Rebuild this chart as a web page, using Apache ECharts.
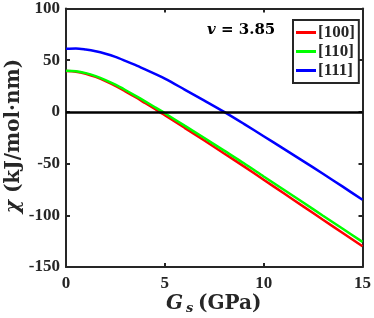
<!DOCTYPE html>
<html>
<head>
<meta charset="utf-8">
<script src="https://cdn.jsdelivr.net/npm/echarts@6/dist/echarts.min.js"></script>
<style>html,body{margin:0;padding:0;background:#fff;}#c{width:374px;height:318px;}</style>
</head>
<body>
<div id="c"></div>
<script>
var gs = [0, 0.5, 1, 1.5, 2, 2.5, 3, 3.5, 4, 4.5, 5, 6, 7, 8, 9, 10, 11, 12, 13, 14, 15];
var s100 = [39.5, 38.9, 36.9, 33.8, 29.8, 25.2, 19.9, 14.4, 8.6, 2.8, -3.1, -15.4, -27.7, -40.2, -52.7, -65.6, -78.5, -91.4, -104.3, -117.1, -130];
var s110 = [39.8, 39.3, 37.5, 34.6, 30.8, 26.3, 21.2, 15.8, 10.2, 4.5, -1.3, -13.3, -25.3, -37.5, -49.7, -62.4, -75, -87.7, -100.4, -113, -125.7];
var s111 = [61, 61.4, 60.3, 58.6, 56.2, 53.2, 49.4, 45.4, 41.1, 36.7, 32.2, 21.6, 10.9, 0, -11.6, -23.5, -35.5, -47.6, -59.8, -72.3, -85];
var names = ['[100]', '[110]', '[111]'];
var colors = ['#ff0000', '#00ff00', '#0000ff'];
var xTicks = [0, 5, 10, 15];
var yTicks = [-150, -100, -50, 0, 50, 100];

function pairs(v) { return gs.map(function (x, i) { return [x, v[i]]; }); }

var tickFont = { fontFamily: 'Liberation Serif', fontWeight: 'bold', fontSize: 17, color: '#262626' };
var frame = { show: true, onZero: false, lineStyle: { color: '#262626', width: 2 } };
var ticks = { show: true, inside: true, length: 4, lineStyle: { color: '#262626', width: 2 } };

var series = [s100, s110, s111].map(function (v, i) {
  return {
    name: names[i], type: 'line', data: pairs(v), smooth: 0.3,
    showSymbol: false, symbol: 'none',
    lineStyle: { color: colors[i], width: 2.5 }, itemStyle: { color: colors[i] },
    z: 2 + i
  };
});
series[2].markLine = {
  silent: true, symbol: 'none', label: { show: false },
  lineStyle: { color: '#000', width: 2.5, type: 'solid' },
  data: [{ yAxis: 0 }]
};

var chart = echarts.init(document.getElementById('c'), null, { renderer: 'canvas' });
chart.setOption({
  animation: false,
  backgroundColor: '#fff',
  grid: { left: 66, right: 10, top: 8, bottom: 51, containLabel: false },
  xAxis: [
    { type: 'value', min: 0, max: 15, interval: 5, position: 'bottom',
      axisLine: frame, axisTick: ticks,
      axisLabel: Object.assign({ margin: 8 }, tickFont), splitLine: { show: false } },
    { type: 'value', min: 0, max: 15, interval: 5, position: 'top',
      axisLine: frame, axisTick: ticks,
      axisLabel: { show: false }, splitLine: { show: false } }
  ],
  yAxis: [
    { type: 'value', min: -150, max: 100, interval: 50, position: 'left',
      axisLine: frame, axisTick: ticks,
      axisLabel: Object.assign({ margin: 6 }, tickFont), splitLine: { show: false } },
    { type: 'value', min: -150, max: 100, interval: 50, position: 'right',
      axisLine: frame, axisTick: ticks,
      axisLabel: { show: false }, splitLine: { show: false } }
  ],
  legend: {
    data: names, orient: 'vertical', left: 293, top: 20,
    padding: [3, 4, 3, 3], itemGap: 0, itemWidth: 20, itemHeight: 3, icon: 'rect',
    borderColor: '#262626', borderWidth: 2, backgroundColor: '#fff',
    textStyle: { fontFamily: 'Liberation Serif', fontWeight: 'bold', fontSize: 17, color: '#262626', lineHeight: 19, padding: [0, 0, 0, -3] }
  },
  graphic: [
    { type: 'text', x: 14, y: 136, rotation: Math.PI / 2,
      style: { text: '{i|χ} (kJ/mol·nm)', align: 'center', verticalAlign: 'middle', textAlign: 'center', textVerticalAlign: 'middle',
        font: 'bold 20px "DejaVu Serif"', fill: '#262626',
        rich: { i: { fontStyle: 'italic', fontWeight: 'bold', fontSize: 20, fontFamily: 'DejaVu Serif' } } } },
    { type: 'text', x: 166, y: 304,
      style: { text: 'G', align: 'left', verticalAlign: 'middle', textAlign: 'left', textVerticalAlign: 'middle',
        font: 'italic bold 20px "DejaVu Serif"', fill: '#262626' } },
    { type: 'text', x: 186, y: 309,
      style: { text: 's', align: 'left', verticalAlign: 'middle', textAlign: 'left', textVerticalAlign: 'middle',
        font: 'italic bold 13px "DejaVu Serif"', fill: '#262626' } },
    { type: 'text', x: 198, y: 304,
      style: { text: '(GPa)', align: 'left', verticalAlign: 'middle', textAlign: 'left', textVerticalAlign: 'middle',
        font: 'bold 20px "DejaVu Serif"', fill: '#262626' } },
    { type: 'text', x: 207, y: 30,
      style: { text: '{i|v} = 3.85', align: 'left', verticalAlign: 'middle', textAlign: 'left', textVerticalAlign: 'middle',
        font: 'bold 15px "DejaVu Serif"', fill: '#000',
        rich: { i: { fontStyle: 'italic', fontWeight: 'bold', fontSize: 15, fontFamily: 'DejaVu Serif' } } } }
  ],
  series: series
});
</script>
</body>
</html>
